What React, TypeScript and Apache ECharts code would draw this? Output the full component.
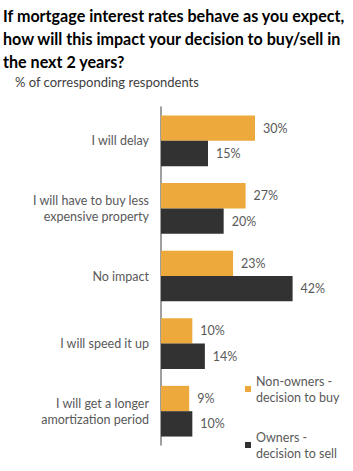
import React, { useEffect, useRef } from "react";
import * as echarts from "echarts";

const categories = [
  "I will delay",
  "I will have to buy less\nexpensive property",
  "No impact",
  "I will speed it up",
  "I will get a longer\namortization period",
];
const nonOwners = [30, 27, 23, 10, 9];
const owners = [15, 20, 42, 14, 10];
const seriesNames = ["Non-owners -\ndecision to buy", "Owners -\ndecision to sell"];

const FONT = "Lato";

export default function App() {
  const ref = useRef<HTMLDivElement>(null);
  useEffect(() => {
    const chart = echarts.init(ref.current!, undefined, { renderer: "svg" });
    const labelStyle = {
      show: true,
      position: "right" as const,
      distance: 8,
      formatter: "{c}%",
      color: "#595959",
      fontSize: 12.5,
      fontFamily: FONT,
    };
    chart.setOption({
      animation: false,
      backgroundColor: "#ffffff",
      title: [
        {
          text: "If mortgage interest rates behave as you expect,\nhow will this impact your decision to buy/sell in\nthe next 2 years?",
          left: 3,
          top: 4,
          padding: 0,
          textStyle: {
            fontFamily: FONT,
            fontWeight: "bold",
            fontSize: 16.1,
            lineHeight: 23,
            color: "#000000",
          },
        },
        {
          text: "% of corresponding respondents",
          left: 15,
          top: 75,
          padding: 0,
          textStyle: {
            fontFamily: FONT,
            fontWeight: "normal",
            fontSize: 13,
            color: "#404040",
          },
        },
      ],
      legend: {
        orient: "vertical",
        left: 245,
        top: 365,
        padding: 0,
        itemWidth: 6,
        itemHeight: 6,
        itemGap: 8,
        icon: "rect",
        selectedMode: false,
        textStyle: {
          fontFamily: FONT,
          fontSize: 12.5,
          color: "#595959",
          lineHeight: 16,
          padding: [16, 0, 0, 0],
        },
        data: seriesNames,
      },
      grid: { left: 161, top: 107, width: 188, height: 338, containLabel: false },
      xAxis: {
        type: "value",
        min: 0,
        max: 60,
        show: false,
      },
      yAxis: {
        type: "category",
        data: categories,
        inverse: true,
        axisLine: { show: true, lineStyle: { color: "#7f7f7f", width: 1.5 } },
        axisTick: { show: false },
        axisLabel: {
          color: "#595959",
          fontFamily: FONT,
          fontSize: 12.5,
          lineHeight: 16,
          margin: 12,
          align: "right",
        },
      },
      series: [
        {
          name: seriesNames[0],
          type: "bar",
          data: nonOwners,
          barGap: "0%",
          barCategoryGap: "25%",
          itemStyle: { color: "#EDA93B" },
          label: labelStyle,
        },
        {
          name: seriesNames[1],
          type: "bar",
          data: owners,
          barGap: "0%",
          barCategoryGap: "25%",
          itemStyle: { color: "#323232" },
          label: labelStyle,
        },
      ],
    });
    return () => chart.dispose();
  }, []);
  return <div ref={ref} style={{ width: 353, height: 471, position: "absolute", left: 0, top: 0 }} />;
}
